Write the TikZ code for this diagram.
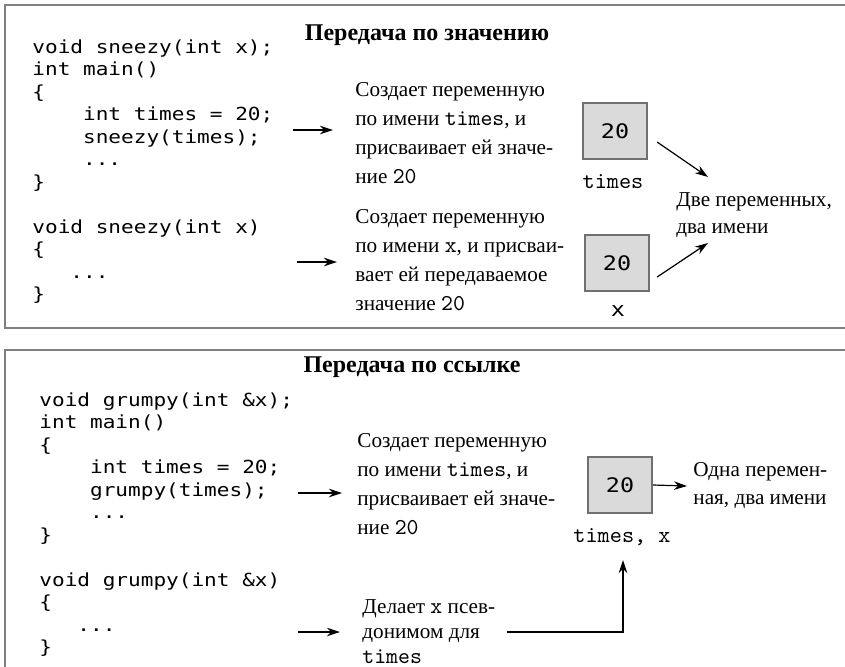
\documentclass[tikz,border=0pt]{standalone}
\usepackage{fontspec}
\setmainfont{Liberation Serif}
\setmonofont[Scale=1.07]{lmmono10-regular.otf}
\newfontfamily\codefont[FakeStretch=1.17]{DejaVu Sans Mono}
\usetikzlibrary{calc,arrows.meta,positioning}
\definecolor{framex}{HTML}{808080}
\definecolor{cellfill}{HTML}{DADADA}
\definecolor{cellline}{HTML}{707070}
\newcommand{\mono}[1]{{\ttfamily #1}}
\tikzset{
  ar/.style={-{Stealth[length=2.3mm,width=1.5mm]},line width=0.6pt},
  frame/.style={framex,line width=1.1pt},
  code/.style={font=\codefont\fontsize{9}{11.25}\selectfont,align=left,anchor=north west,inner sep=0pt},
  txt/.style={font=\fontsize{10.6}{14.5}\selectfont,align=left,anchor=west,inner sep=0pt},
  head/.style={font=\fontsize{12}{14}\selectfont\bfseries,inner sep=0pt},
  cell/.style={draw=cellline,fill=cellfill,line width=1.1pt,minimum width=32pt,minimum height=28pt,inner sep=0pt,font=\codefont\fontsize{10}{12}\selectfont},
  lbl/.style={font=\ttfamily\fontsize{10.8}{12}\selectfont,inner sep=0pt}
}
\begin{document}
\begin{tikzpicture}[x=0.5pt,y=-0.5pt]
\useasboundingbox (0,0) rectangle (845,666);
% frames
\draw[frame] (846,5) -- (5,5) -- (5,328) -- (846,328);
\draw[frame] (846,350) -- (5,350) -- (5,670);

% pass by value
\node[head] (hv) at (427,35) {Передача по значению};
\node[code] (cv) at (32,39) {void sneezy(int x);\\
int main()\\
\{\\
~~~~int times = 20;\\
~~~~sneezy(times);\\
~~~~...\\
\}\\
~\\
void sneezy(int x)\\
\{\\
~~~...\\
\}};
\node[txt] (dv1) at (355,133) {Создает переменную\\
по имени \mono{times}, и\\
присваивает ей значе-\\
ние \mono{20}};
\node[txt] (dv2) at (355,260) {Создает переменную\\
по имени \mono{x}, и присваи-\\
вает ей передаваемое\\
значение \mono{20}};
\node[cell] (bv1) at (615,131) {20};
\node[lbl] (lv1) at (613,182) {times};
\node[cell] (bv2) at (617,263) {20};
\node[lbl,font=\codefont\fontsize{10}{12}\selectfont] (lv2) at (618,311) {x};
\node[txt,font=\fontsize{10.6}{13.5}\selectfont] (two) at (676,215) {Две переменных,\\два имени};
\coordinate (av1s) at (293,130);
\coordinate (av1e) at (333,130);
\coordinate (av2s) at (297,262);
\coordinate (av2e) at (337,262);
\coordinate (tw1) at (708,177);
\coordinate (tw2) at (708,243);
\draw[ar] (av1s) -- (av1e);
\draw[ar] (av2s) -- (av2e);
\draw[ar] ($(bv1.east)+(9,11)$) -- (tw1);
\draw[ar] ($(bv2.east)+(7,14)$) -- (tw2);

% pass by reference
\node[head] (hr) at (412,367) {Передача по ссылке};
\node[code] (cr) at (39,392) {void grumpy(int \&x);\\
int main()\\
\{\\
~~~~int times = 20;\\
~~~~grumpy(times);\\
~~~~...\\
\}\\
~\\
void grumpy(int \&x)\\
\{\\
~~~...\\
\}};
\node[txt] (dr1) at (357,484) {Создает переменную\\
по имени \mono{times}, и\\
присваивает ей значе-\\
ние \mono{20}};
\node[txt,font=\fontsize{10.6}{12.5}\selectfont] (dr2) at (362,632) {Делает \mono{x} псев-\\
донимом для\\
\mono{times}};
\node[cell] (br) at (620,485) {20};
\node[lbl] (lr) at (622,537) {times, x};
\node[txt,font=\fontsize{10.6}{14}\selectfont] (one) at (693,486) {Одна перемен-\\ная, два имени};
\coordinate (ar1s) at (298,493);
\coordinate (ar1e) at (342,493);
\coordinate (ar2s) at (298,632);
\coordinate (ar2e) at (340,632);
\draw[ar] (ar1s) -- (ar1e);
\draw[ar] (ar2s) -- (ar2e);
\draw[ar] (br.east) -- ($(one.west)+(-6,0)$);
\draw[ar] ($(dr2.east)+(11,0)$) -| ($(lr.south)+(1,14)$);
\end{tikzpicture}
\end{document}
